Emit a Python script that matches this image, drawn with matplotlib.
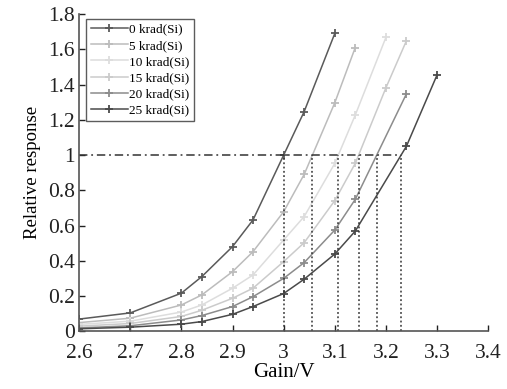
import numpy as np
import matplotlib
matplotlib.use("Agg")
import matplotlib.pyplot as plt

plt.rcParams['font.family'] = ['Liberation Serif', 'DejaVu Serif']

labels = ['0 krad(Si)', '5 krad(Si)', '10 krad(Si)', '15 krad(Si)', '20 krad(Si)', '25 krad(Si)']
colors = ['#5a5a5a', '#bcbcbc', '#dddddd', '#cbcbcb', '#8c8c8c', '#4a4a4a']

x0 = [2.6, 2.7, 2.8, 2.84, 2.9, 2.94, 3.0, 3.04, 3.1]
y0 = [0.07, 0.105, 0.217, 0.311, 0.481, 0.632, 1.0, 1.246, 1.69]
x1 = [2.6, 2.7, 2.8, 2.84, 2.9, 2.94, 3.0, 3.04, 3.1, 3.14]
y1 = [0.05, 0.075, 0.15, 0.207, 0.339, 0.452, 0.679, 0.89, 1.297, 1.61]
x2 = [2.6, 2.7, 2.8, 2.84, 2.9, 2.94, 3.0, 3.04, 3.1, 3.14, 3.2]
y2 = [0.04, 0.058, 0.11, 0.15, 0.245, 0.32, 0.519, 0.651, 0.953, 1.227, 1.668]
x3 = [2.6, 2.7, 2.8, 2.84, 2.9, 2.94, 3.0, 3.04, 3.1, 3.14, 3.2, 3.24]
y3 = [0.03, 0.045, 0.085, 0.12, 0.188, 0.245, 0.396, 0.503, 0.742, 0.953, 1.382, 1.648]
x4 = [2.6, 2.7, 2.8, 2.84, 2.9, 2.94, 3.0, 3.04, 3.1, 3.14, 3.24]
y4 = [0.02, 0.032, 0.065, 0.09, 0.141, 0.197, 0.301, 0.39, 0.575, 0.749, 1.347]
x5 = [2.6, 2.7, 2.8, 2.84, 2.9, 2.94, 3.0, 3.04, 3.1, 3.14, 3.24, 3.3]
y5 = [0.015, 0.024, 0.041, 0.056, 0.097, 0.141, 0.215, 0.296, 0.439, 0.569, 1.05, 1.455]

xs = [x0, x1, x2, x3, x4, x5]
ys = [y0, y1, y2, y3, y4, y5]

xticks = [2.6, 2.7, 2.8, 2.9, 3.0, 3.1, 3.2, 3.3, 3.4]
xticklabels = ['2.6', '2.7', '2.8', '2.9', '3', '3.1', '3.2', '3.3', '3.4']
yticks = [0, 0.2, 0.4, 0.6, 0.8, 1.0, 1.2, 1.4, 1.6, 1.8]
yticklabels = ['0', '0.2', '0.4', '0.6', '0.8', '1', '1.2', '1.4', '1.6', '1.8']
threshold = 1.0

fig = plt.figure(figsize=(5.07, 3.89), dpi=100)
ax = fig.add_axes([0.156, 0.148, 0.807, 0.816])

for x, y, c, l in zip(xs, ys, colors, labels):
    ax.plot(x, y, color=c, lw=1.1, marker='+', ms=6, mew=1.3, label=l)

cross = [np.interp(threshold, y, x) for x, y in zip(xs, ys)]
ax.plot([2.6, max(cross)], [threshold, threshold], color='#333333', lw=1.1,
        dashes=[5.5, 2.5, 1.2, 2.5])
for cx in cross:
    ax.plot([cx, cx], [0, threshold], color='#333333', lw=1.1, dashes=[1.2, 1.6])

ax.set_xlim(2.6, 3.4)
ax.set_ylim(0, 1.8)
ax.set_xticks(xticks)
ax.set_xticklabels(xticklabels)
ax.set_yticks(yticks)
ax.set_yticklabels(yticklabels)
ax.tick_params(direction='in', length=4, width=1, labelsize=15.5, colors='#222222')
ax.tick_params(axis='x', pad=9)
ax.tick_params(axis='y', pad=3)
for s in ['top', 'right']:
    ax.spines[s].set_visible(False)
for s in ['left', 'bottom']:
    ax.spines[s].set_color('#555555')
    ax.spines[s].set_linewidth(1.2)

ax.set_xlabel('Gain/V', fontsize=15, labelpad=0)
ax.set_ylabel('Relative response', fontsize=13.5, labelpad=5)

leg = ax.legend(loc='upper left', bbox_to_anchor=(0.017, 0.985), fontsize=9.5,
                frameon=True, fancybox=False, edgecolor='#333333',
                handlelength=2.8, handletextpad=0.1, labelspacing=0.3,
                borderpad=0.35, borderaxespad=0)
leg.get_frame().set_linewidth(1.0)

fig.savefig('out.png', dpi=100)
